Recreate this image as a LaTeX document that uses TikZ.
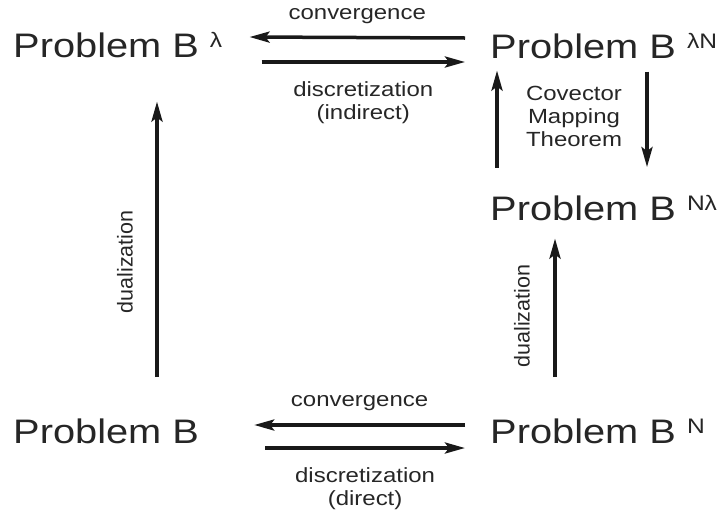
\documentclass[tikz,border=0pt]{standalone}
\usepackage{fontspec}
\setmainfont{Liberation Sans}
\usetikzlibrary{arrows.meta}

\newcommand{\supr}[1]{\raisebox{10pt}{\fontsize{21}{21}\selectfont #1}}

\begin{document}
\begin{tikzpicture}[x=1pt,y=-1pt,
	prob/.style={font=\fontsize{34}{40}\selectfont, text=black!85, inner sep=0, anchor=base west, xscale=1.17, transform shape},
	lab/.style={font=\fontsize{20.5}{23}\selectfont, text=black!85, inner sep=0, align=center, xscale=1.17, transform shape},
	dual/.style={font=\fontsize{21.5}{24}\selectfont, text=black!85, inner sep=0, rotate=90},
	arr/.style={-{Stealth[length=20pt,width=11pt,inset=4pt]}, line width=3.5pt, black!90}]
	\useasboundingbox (0,0) rectangle (725,515);
	\node[prob] (BLam) at (13,57) {Problem B \supr{λ}};
	\node[prob] (BLamN) at (490,58) {Problem B \supr{λN}};
	\node[prob] (BNLam) at (490,220) {Problem B \supr{Nλ}};
	\node[prob] (B) at (13,443) {Problem B};
	\node[prob] (BN) at (490,443) {Problem B \supr{N}};
	% upper pair
	\draw[arr] ([xshift=-25pt,yshift=20pt]BLamN.base west) -- ([xshift=27pt,yshift=20pt]BLam.base east) node[lab, midway, above=12pt] (conv1) {convergence};
	\draw[arr] ([xshift=39pt,yshift=-5pt]BLam.base east) -- ([xshift=-25pt,yshift=-4pt]BLamN.base west) node[lab, midway, below=18pt] (disc1) {discretization\\(indirect)};
	% lower pair
	\draw[arr] ([xshift=-25pt,yshift=18pt]BN.base west) -- ([xshift=55pt,yshift=18pt]B.base east) node[lab, midway, above=13pt] (conv2) {convergence};
	\draw[arr] ([xshift=66pt,yshift=-5pt]B.base east) -- ([xshift=-25pt,yshift=-5pt]BN.base west) node[lab, midway, below=18pt] (disc2) {discretization\\(direct)};
	% verticals
	\draw[arr] ([xshift=144pt,yshift=41pt]B.north west) -- ([xshift=144pt,yshift=-44pt]BLam.south west);
	\draw[arr] ([xshift=7pt,yshift=27pt]BNLam.north west) -- ([xshift=7pt,yshift=-12pt]BLamN.south west);
	\draw[arr] ([xshift=157pt,yshift=-13pt]BLamN.south west) -- ([xshift=157pt,yshift=27.5pt]BNLam.north west);
	\draw[arr] ([xshift=65pt,yshift=41pt]BN.north west) -- ([xshift=65pt,yshift=-18pt]BNLam.south west);
	\node[lab] (cmt) at (574,116) {Covector\\Mapping\\Theorem};
	\node[dual] (dual1) at (125,262) {dualization};
	\node[dual] (dual2) at (522,316) {dualization};
\end{tikzpicture}
\end{document}
